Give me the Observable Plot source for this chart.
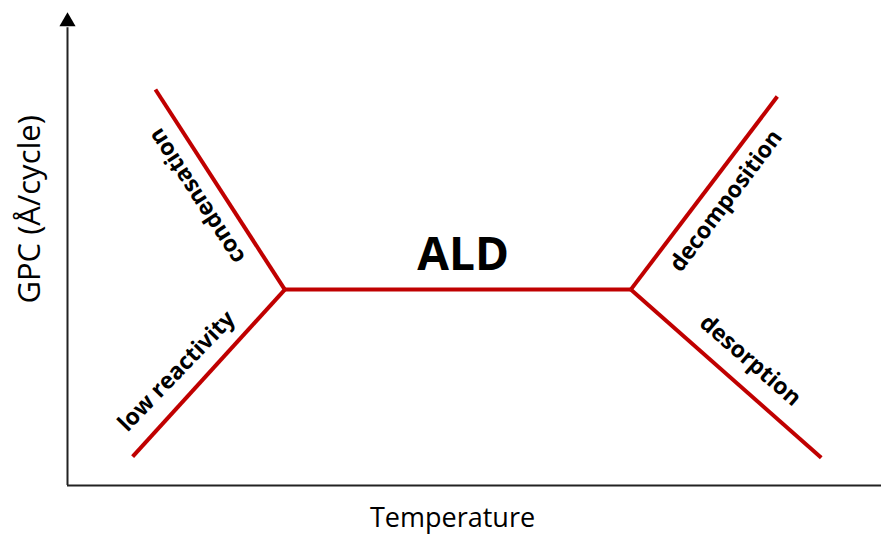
<!DOCTYPE html>
<html>
<head>
<meta charset="utf-8">
<script src="https://cdn.jsdelivr.net/npm/d3@7"></script>
<script src="https://cdn.jsdelivr.net/npm/@observablehq/plot@0.6"></script>
<style>
  html, body { margin: 0; padding: 0; background: #fff; }
  #chart svg { display: block; }
</style>
</head>
<body>
<div id="chart"></div>
<script>
// Segments of the ALD window diagram (Temperature %, GPC %)
const segmentNames = ["low reactivity", "condensation", "ALD", "decomposition", "desorption"];
const startT = [8.0, 10.8, 26.7, 69.2, 69.2];
const startG = [6.1, 83.9, 41.5, 41.5, 41.5];
const endT   = [26.7, 26.7, 69.2, 87.2, 92.6];
const endG   = [41.5, 41.5, 41.5, 82.4, 5.9];

// Region labels
const labelText   = ["low reactivity", "condensation", "decomposition", "desorption"];
const labelT      = [13.4, 15.9, 80.9, 83.9];
const labelG      = [24.2, 61.3, 60.3, 26.5];
const labelRotate = [-46, -123, -53, 41];

const centerLabel = ["ALD"];
const centerT = [48.6];
const centerG = [48.7];

const xTitle = "Temperature";
const yTitle = "GPC (Å/cycle)";

const segments = segmentNames.map((n, i) => ({name: n, x1: startT[i], y1: startG[i], x2: endT[i], y2: endG[i]}));
const labels = labelText.map((t, i) => ({text: t, x: labelT[i], y: labelG[i], r: labelRotate[i]}));
const center = centerLabel.map((t, i) => ({text: t, x: centerT[i], y: centerG[i]}));

const plot = Plot.plot({
  width: 881,
  height: 536,
  marginLeft: 67,
  marginRight: 0,
  marginTop: 13,
  marginBottom: 51,
  x: {domain: [0, 100], axis: null},
  y: {domain: [0, 100], axis: null},
  style: {fontFamily: "'Open Sans', sans-serif", background: "#fff"},
  marks: [
    Plot.ruleY([0], {stroke: "#222", strokeWidth: 2}),
    Plot.ruleX([0], {y1: 0, y2: 97, stroke: "#222", strokeWidth: 2}),
    Plot.dot([{x: 0, y: 100}], {x: "x", y: "y", symbol: "triangle", r: 6, fill: "#000", stroke: "none", dy: 8}),
    Plot.link(segments, {x1: "x1", y1: "y1", x2: "x2", y2: "y2", stroke: "#C00000", strokeWidth: 4, strokeLinecap: "butt"}),
    Plot.text(labels, {x: "x", y: "y", text: "text", rotate: "r", fontSize: 23, fontWeight: "bold", fill: "#000"}),
    Plot.text(center, {x: "x", y: "y", text: "text", fontSize: 46, fontWeight: "bold", fill: "#000"}),
    Plot.text([xTitle], {x: 47.3, y: 0, text: d => d, dy: 33, fontSize: 27, fill: "#000"}),
    Plot.text([yTitle], {x: 0, y: 58.5, text: d => d, dx: -37, rotate: -90, fontSize: 31, fill: "#000"})
  ]
});
document.getElementById("chart").appendChild(plot);
</script>
</body>
</html>
